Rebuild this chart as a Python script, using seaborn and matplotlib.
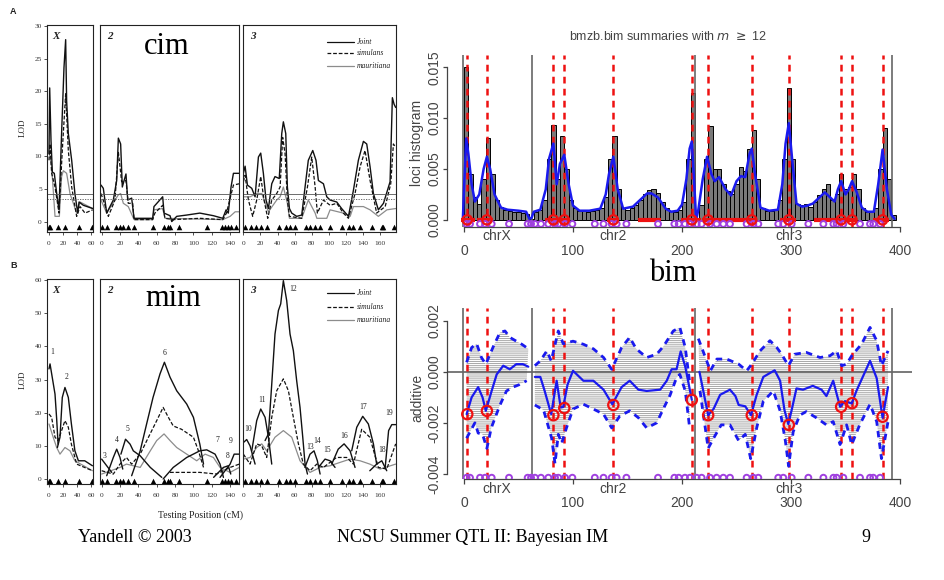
import numpy as np
import pandas as pd
import matplotlib
matplotlib.use("Agg")
import matplotlib.pyplot as plt
from matplotlib.lines import Line2D
import seaborn as sns

nan = np.nan
# ---------------- data: cim (panel A) ----------------
cim_X_x = [0, 1, 2.9, 4.8, 7.6, 11, 14.3, 18, 21.4, 23.8, 25.2, 27.6, 32.4, 37, 41, 42.9, 49, 62.4]
cim_X_joint = [10.4, 20.5, 12.4, 7.6, 7.4, 4.3, 1.8, 13.5, 23.6, 27.9, 18.5, 13.5, 9.4, 4.3, 1.3, 3.0, 2.5, 2.0]
cim_X_sim_x = [0, 1.4, 3.8, 8.6, 14.3, 19, 23.8, 27.6, 32.4, 39.5, 44.3, 51.4, 62.4]
cim_X_sim = [9.4, 11.9, 7.4, 5.3, 1.3, 10.9, 19.6, 10.9, 5.3, 0.8, 2.3, 1.3, 1.8]
cim_X_mau_x = [0, 3.8, 8.6, 14.8, 18, 20.5, 25.2, 30, 39.5, 44.3, 62.4]
cim_X_mau = [10.9, 8.4, 0.8, 0.8, 6.9, 7.8, 7.4, 4.3, 1.3, 3.0, 2.0]

cim_2_x = [-0.7, 1.8, 5.5, 12.7, 16.4, 18.2, 20.7, 22.5, 26.5, 28.4, 32.7, 35.3, 55.6, 57, 66.5, 68, 74.5,
           76.4, 81.8, 92.7, 107, 121.8, 132, 135.6, 138, 141, 143.6, 150]
cim_2_joint = [5.6, 5.1, 1.3, 3.3, 6.3, 12.8, 11.9, 5.3, 7.3, 3.3, 3.6, 0.5, 0.5, 2.3, 3.8, 1.3, 0.9,
               0.0, 0.8, 1.0, 1.3, 0.9, 0.5, 1.8, 1.3, 5.3, 7.4, 7.4]
cim_2_sim_x = [-0.7, 3.6, 7.3, 14.5, 18.2, 21.8, 26.5, 29, 33.8, 35.3, 55.6, 58, 66.5, 69, 78, 107, 132,
               136, 143.6, 150]
cim_2_sim = [4.3, 2.5, 0.8, 3.3, 10.7, 6.1, 6.3, 2.8, 2.8, 0.3, 0.3, 1.3, 2.5, 0.5, 0.3, 0.5, 0.3,
             1.3, 5.6, 5.8]
cim_2_mau_x = [-0.7, 5.5, 14.5, 18.2, 20.7, 23.6, 29, 35.3, 55.6, 57, 66.5, 69, 132, 140, 145.5, 150]
cim_2_mau = [3.3, 1.3, 3.3, 4.1, 4.3, 2.8, 2.3, 0.3, 0.3, 1.8, 2.0, 0.5, 0.3, 0.8, 1.5, 1.5]

cim_3_x = [0, 2, 4.7, 9.8, 13.7, 17.6, 20.3, 23.4, 26.5, 29.3, 33.2, 37, 42, 44.9, 46.8, 49.6, 51.5,
           53.9, 56.6, 62.4, 68.3, 72.2, 76, 81.2, 85, 87.8, 93.7, 97.6, 101.5, 109.3, 115, 123,
           128.8, 134.6, 140.5, 144.4, 148.3, 152.2, 158, 164, 171.7, 174.4, 176.4, 178.3]
cim_3_joint = [7.4, 8.5, 5.6, 5.1, 3.8, 9.9, 10.5, 7.4, 3.3, 2.0, 5.8, 6.9, 6.6, 13.5, 15.3, 13.5, 5.3,
               2.0, 1.3, 0.8, 1.0, 5.3, 9.4, 10.9, 9.4, 6.3, 5.8, 3.8, 3.3, 3.0, 2.0, 0.8,
               4.8, 9.4, 12.3, 11.9, 8.4, 4.3, 1.8, 2.8, 6.1, 19.0, 18.0, 17.5]
cim_3_sim_x = [0, 2, 5.9, 10.9, 15.6, 20.3, 24.2, 28.5, 33.2, 39, 43, 46, 48.8, 51.5, 53.9, 68.3, 75,
               80, 84, 86.6, 93.7, 101.5, 109.3, 117, 123, 130.7, 136.6, 142.4, 148.3, 156, 166,
               172.5, 175.6, 178.3]
cim_3_sim = [6.1, 7.1, 3.3, 0.8, 3.3, 6.9, 3.3, 0.5, 3.3, 4.3, 5.3, 12.9, 10.4, 3.3, 0.8, 0.5, 5.3,
             9.9, 5.3, 1.3, 3.3, 2.5, 2.8, 1.3, 0.5, 4.3, 8.4, 10.9, 6.3, 1.3, 2.3,
             5.8, 11.9, 11.4]
cim_3_mau_x = [0, 7.8, 15.6, 21.5, 29.3, 39, 43, 46.8, 51.5, 53.9, 68.3, 76, 84, 86, 97.6, 101.5, 117,
               125, 128.8, 140.5, 148.3, 158, 168, 178.3]
cim_3_mau = [3.8, 3.8, 4.3, 4.3, 1.5, 3.3, 3.8, 5.3, 2.8, 0.5, 0.5, 3.3, 1.3, 0.5, 0.5, 1.8, 1.3,
             0.8, 2.3, 2.3, 1.8, 0.8, 1.8, 2.0]
cim_thresholds = [4.3, 3.45]

markers_X = [0, 2, 13, 23, 43, 61]
markers_2 = [0, 6, 16, 20, 23, 29, 35, 56, 68, 72, 75, 84, 115, 131, 134, 138, 141, 146]
markers_3 = [2, 9, 15, 21, 28, 42, 50, 54, 60, 73, 78, 84, 90, 101, 115, 124, 128, 136, 150, 162, 164, 176]

# ---------------- data: mim (panel B) ----------------
mim_X_x = [0, 1.5, 8.6, 11, 13, nan, 12, 15.7, 19, 22.8, 27.6, 32, 37, 42, 51, 62]
mim_X_joint = [33.2, 34.7, 25.6, 18, 10.5, nan, 9.5, 12.6, 24.6, 27.6, 24.6, 16.6, 8.5, 5.5, 5.5, 4.0]
mim_X_sim_x = [0, 3.8, 8.6, 13, 18, 22.8, 27.6, 32, 39.5, 62]
mim_X_sim = [19.6, 18.6, 12.6, 11.6, 14.6, 17.6, 15.6, 10.5, 4.5, 2.5]
mim_X_mau_x = [0, 6, 11, 15.7, 22.8, 30, 37, 62]
mim_X_mau = [16.6, 12.6, 9.5, 7.5, 9.5, 8.5, 5.5, 2.5]

mim_2_x = [0, 5.5, 11, nan, 5.5, 12.7, 16.4, 20, 23, nan, 21, 26, 31, 34.5, 42, 53, 65.5, nan,
           32.7, 42, 49, 56, 63.6, 68.4, 74.5, 81.8, 92.7, 100, 107, 111, nan,
           67, 78, 92.7, 107, 114.5, 123.6, 129, 132.7, nan, 122, 132.7, 138, 140.7, nan,
           129, 140, 144.4, 150]
mim_2_joint = [6, 4, 2, nan, 1, 6.5, 9, 6.5, 3, nan, 7.5, 12, 10.5, 8.5, 7, 3.5, 0.5, nan,
               1, 8.5, 16.6, 24.6, 31.7, 35.2, 30.7, 26.6, 22.6, 18.6, 10.5, 4.5, nan,
               0, 3.5, 6.5, 8.5, 8.8, 7.5, 4.5, 0.5, nan, 0.5, 3.5, 4, 1.5, nan,
               0.5, 4.5, 7.5, 7.5]
mim_2_sim_x = [0, 12.7, 20, 27, 32.7, 42, 51, 60, 67, 72.7, 78, 87, 100, 105.5, 111, nan,
               74.5, 107, 125, 140, 150]
mim_2_sim = [2.5, 1.5, 4.5, 6.5, 4.5, 7.5, 12.6, 17.6, 21.6, 18.6, 16, 15, 12.6, 8.5, 3.5, nan,
             2, 2, 1.5, 3.5, 4.5]
mim_2_mau_x = [0, 20, 27, 42, 53, 60, 68, 74.5, 81.8, 92.7, 103.6, 112.7, 121.8, 129, 140, 150]
mim_2_mau = [1.5, 3.5, 4.5, 3.5, 8.5, 11.6, 13.6, 11.6, 9.5, 7.5, 5.5, 7.5, 6.5, 3.5, 2, 3.5]

mim_3_x = [0, 3.9, 7.8, 13.7, nan, 9.8, 15.6, 20.3, 25.4, 29.3, 33.2, nan,
           25.4, 29.3, 33.2, 37, 41, 43.7, 46.8, 50.7, 54.6, 58.5, 62.4, 66.3, 69.5, 72.2, 75, nan,
           72, 78, 82.7, 86.6, 89.8, nan, 87.8, 95.6, 101.5, 107.3, nan,
           103.4, 111, 117.9, 124.9, 130.7, nan, 126.8, 132.7, 139.7, 146.3, 152.2, 156, nan,
           148, 156, 162, 167.8, nan, 166, 170, 173.7, 178.3]
mim_3_joint = [11, 11.9, 10, 4.5, nan, 8.5, 17.6, 21.1, 18.6, 12.6, 4.5, nan,
               11.6, 13.6, 28.6, 43.7, 50.8, 52.8, 59.8, 53.8, 43.7, 38.7, 29.6, 21.6, 12.6, 4.5, 1.5, nan,
               3.5, 7.5, 8.5, 5.5, 1.5, nan, 3.5, 6, 5.5, 3.5, nan,
               4.5, 9, 10.6, 8.5, 3.5, nan, 8.5, 15.6, 18.9, 16.6, 10.6, 4.5, nan,
               2.5, 4.5, 5.5, 2.5, nan, 3.5, 14.6, 16.4, 16.4]
mim_3_sim_x = [0, 7.8, 15.6, 21.5, 27.3, 33.2, 39, 46.8, 52.7, 58.5, 64.4, 70.2, 78, 85.9, 93.7,
               109, 121, 128.8, 138.5, 148, 158, 167.8, 178.3]
mim_3_sim = [7.5, 4.5, 10.6, 10, 6.5, 18.6, 26.6, 30.2, 26.6, 18.6, 10.6, 4.5, 2.5, 4.5, 3.5,
             6.5, 6.5, 4.5, 15, 12.6, 3.5, 3, 10.6]
mim_3_mau_x = [0, 7.8, 15.6, 21.5, 27.3, 37, 46.8, 56.6, 66.3, 78, 89.8, 101.5, 113, 124.9, 136.6,
               148, 160, 178.3]
mim_3_mau = [6, 6.5, 9.5, 10.6, 8.5, 12.6, 14.6, 12.6, 5.5, 2, 3.5, 4, 5, 6, 5.5, 4.5, 3, 4.5]

peak_X_lab = ["1", "2"]
peak_X_pos = [4, 25.7]
peak_X_lod = [37, 29.5]
peak_2_lab = ["3", "4", "5", "6", "7", "8", "9"]
peak_2_pos = [3.6, 16.4, 28.4, 68.4, 126, 137, 141]
peak_2_lod = [5.7, 10.6, 13.8, 36.9, 10.6, 5.7, 10.3]
peak_3_lab = ["10", "11", "12", "13", "14", "15", "16", "17", "18", "19"]
peak_3_pos = [5.9, 21.5, 58.5, 78, 86.6, 97.6, 118, 140.5, 162, 171]
peak_3_lod = [13.8, 22.6, 56, 8.5, 10.2, 7.5, 11.9, 20.6, 7.5, 18.6]

# ---------------- data: bim ----------------
hist_start = list(range(0, 396, 4))
hist_vals = [0.0150, 0.0045, 0.0022, 0.0016, 0.0040, 0.0080, 0.0045, 0.0020, 0.0013, 0.0010,
             0.0009, 0.0008, 0.0008, 0.0007, 0.0006, 0.0001,
             0.0008, 0.0010, 0.0020, 0.0060, 0.0093, 0.0040, 0.0082, 0.0050, 0.0020, 0.0012,
             0.0009, 0.0009, 0.0008, 0.0009, 0.0010, 0.0012, 0.0022, 0.0060, 0.0082, 0.0030,
             0.0012, 0.0010, 0.0012, 0.0015, 0.0020, 0.0025, 0.0029, 0.0030, 0.0026, 0.0018,
             0.0012, 0.0009, 0.0008, 0.0010, 0.0018, 0.0060, 0.0125, 0.0001,
             0.0015, 0.0060, 0.0092, 0.0050, 0.0050, 0.0035, 0.0028, 0.0025, 0.0035, 0.0052,
             0.0048, 0.0070, 0.0088, 0.0040, 0.0012, 0.0009, 0.0009, 0.0010, 0.0020, 0.0060,
             0.0130, 0.0060, 0.0016, 0.0015, 0.0016, 0.0013, 0.0018, 0.0024, 0.0030, 0.0035,
             0.0020, 0.0025, 0.0045, 0.0030, 0.0032, 0.0045, 0.0030, 0.0012, 0.0008, 0.0008,
             0.0012, 0.0050, 0.0090, 0.0040, 0.0005]
dens_x = [-1, 0, 2, 4, 7, 10, 14, 18, 21, 24, 28, 34, 40, 50, 57, 60, 62, 64, 70, 75, 78, 82, 85, 88,
          92, 96, 100, 106, 115, 125, 130, 133, 137, 141, 146, 155, 162, 168, 172, 178, 185, 190,
          196, 200, 204, 207, 209, 211, 213, 215, 219, 223, 227, 230, 234, 240, 245, 250, 254, 258,
          262, 264, 267, 272, 280, 288, 292, 295, 298, 301, 305, 310, 315, 320, 326, 331, 336, 340,
          343, 346, 350, 353, 356, 360, 365, 370, 376, 380, 384, 388, 392, 395]
dens_y = [0.0002, 0.0030, 0.0080, 0.0065, 0.0035, 0.0018, 0.0025, 0.0050, 0.0062, 0.0050, 0.0025,
          0.0012, 0.0010, 0.0009, 0.0008, 0.0001, 0.0002, 0.0008, 0.0010, 0.0030, 0.0060, 0.0075,
          0.0035, 0.0055, 0.0064, 0.0035, 0.0014, 0.0009, 0.0009, 0.0011, 0.0025, 0.0045, 0.0062,
          0.0030, 0.0011, 0.0013, 0.0020, 0.0026, 0.0026, 0.0022, 0.0011, 0.0008, 0.0009, 0.0015,
          0.0040, 0.0070, 0.0077, 0.0040, 0.0000, 0.0010, 0.0040, 0.0062, 0.0045, 0.0038, 0.0042,
          0.0030, 0.0024, 0.0038, 0.0043, 0.0042, 0.0065, 0.0070, 0.0045, 0.0012, 0.0009, 0.0010,
          0.0035, 0.0075, 0.0095, 0.0060, 0.0016, 0.0013, 0.0014, 0.0016, 0.0022, 0.0027, 0.0022,
          0.0018, 0.0030, 0.0038, 0.0025, 0.0030, 0.0038, 0.0028, 0.0012, 0.0008, 0.0008, 0.0035,
          0.0069, 0.0030, 0.0005, 0.0001]
qtl_pos = [3, 21, 82, 92, 137, 209, 224, 264, 298, 346, 356, 384]
qtl_add = [-0.00166, -0.00153, -0.0017, -0.00142, -0.0013, -0.0011, -0.0017, -0.0017, -0.00208,
           -0.00137, -0.00123, -0.00176]
red_span_lo = [-3, 12, 74, 131, 160, 199, 218, 290, 321, 375]
red_span_hi = [10, 27, 97, 142, 181, 217, 268, 305, 360, 390]
marker_pos = [2.4, 5.5, 14.7, 19.3, 25.4, 41.3, 58.4, 61.5, 65.1, 70.6, 77.4, 83.5, 86.5, 92.7, 99.4,
              120, 128, 135.5, 140, 149, 178, 193, 197, 202.7, 207.3, 213.4, 218, 225.7, 231.8,
              237.9, 244, 259.3, 265.4, 270, 288.3, 292.9, 300.6, 315.9, 329.7, 338.9, 341.9, 348,
              363.3, 372.5, 375.5, 381.7]
chrom_bounds = [-1, 62, 212, 393]
chrom_names = ["chrX", "chr2", "chr3"]
chrom_label_pos = [30, 137, 298]

add_mean_x = [2.4, 7, 13, 17, 20, 25, 30, 36, 42, 48, 54, 59, nan,
              65, 70, 74, 80, 85, 88.7, 91, 95, 100, 109.5, 118.7, 128, 136, 144.6, 152, 160, 167.6,
              180, 186, 190.5, 195, 198.8, 203, 209, nan,
              216, 224, 229, 235, 244, 249, 252, 258, 263.3, 268.5, 274.6, 285, 290, 294, 297.5,
              300.6, 305, 311, 320, 328, 332.5, 338.7, 345, 349.5, 355.7, 360, 372.5, 378.6, 384, 389]
add_mean_y = [-1.66, -1.0, -0.6, -1.0, -1.53, -0.8, -0.1, 0.24, 0.1, 0.3, 0.3, 0.2, nan,
              -0.2, -0.2, -0.75, -1.66, -0.35, -1.4, -1.38, -0.5, 0.04, -0.35, -0.35, -0.7, -1.27,
              -0.6, -0.35, -0.7, -0.75, -0.7, -0.35, 0.1, 0.1, 0.8, 0.2, -1.1, nan,
              0.0, -1.7, -1.45, -0.9, -0.7, -0.95, -1.3, -1.35, -1.7, -0.9, -0.2, 0.06, -0.35, -1.5,
              -2.05, -1.5, -0.65, -0.7, -0.55, -0.7, -0.95, -0.35, -1.37, -1.15, -1.24, -0.75, 0.43,
              -0.25, -1.8, -0.6]
add_up_x = [2.4, 7, 11.6, 16, 20, 27, 33, 37.6, 42, 48, 53, 59, nan,
            65, 70, 76, 80, 86.5, 91, 100, 109.5, 118.7, 128, 135.5, 144.6, 152, 158, 167.6, 176.8,
            183, 192, 198, 203, 207, nan,
            215, 221.5, 226, 232, 241, 252, 259.3, 264, 271.6, 280.7, 287, 291.4, 297.6, 303.5, 314,
            326.6, 335.8, 341.9, 346.5, 351, 355.7, 364.8, 372.5, 378.6, 383, 389]
add_up_y = [0.37, 0.95, 1.1, 0.56, 0.3, 1.0, 1.54, 1.6, 1.35, 1.2, 1.08, 0.9, nan,
            0.24, 0.43, 0.82, 0.43, 1.6, 1.1, 1.2, 1.08, 0.9, 0.56, 0.1, 0.95, 1.35, 0.9, 0.56, 0.69,
            1.0, 1.6, 1.74, 0.95, -0.4, nan,
            1.3, 0.56, 0.04, 0.5, 0.5, 0.3, 0.04, 0.3, 0.82, 1.22, 0.95, 0.69, 0.24, 0.69, 0.76,
            0.56, 0.63, 0.82, 0.24, 0.3, 0.63, 1.09, 1.74, 1.22, 0.24, 0.82]
add_lo_x = [2.4, 10, 13, 17, 21, 25, 33, 39, 45, 51, 57.5, nan,
            65, 73, 80.4, 83.5, 86.5, 89.6, 94, 100, 109.5, 118.7, 128, 135.5, 143, 152, 160, 167.6,
            176.8, 183, 189, 195, 198, 203, 207, nan,
            216.5, 224, 229, 236, 244, 252, 258, 263, 268.5, 274.6, 283.8, 290, 294.8, 297.8, 302,
            308, 314, 323.2, 332.5, 338.7, 345, 351, 355.7, 363, 372.5, 378.6, 383, 389]
add_lo_y = [-2.6, -2.0, -2.4, -2.45, -3.0, -2.2, -1.3, -0.75, -0.6, -0.5, -0.35, nan,
            -1.3, -1.5, -2.6, -3.6, -2.45, -2.8, -2.2, -1.46, -1.27, -1.46, -1.66, -2.2, -1.73,
            -1.53, -1.8, -2.2, -2.0, -1.44, -0.92, -0.23, -0.1, -0.75, -2.2, nan,
            -0.75, -3.0, -2.6, -2.08, -2.08, -2.7, -2.45, -3.4, -2.2, -1.15, -0.75, -1.53, -2.7,
            -3.7, -2.35, -1.7, -1.56, -1.8, -2.08, -1.95, -2.85, -2.08, -2.85, -2.08, -1.27, -1.95,
            -3.4, -1.95]

# ---------------- figure ----------------
sns.set_theme(style="ticks")
plt.rcParams["font.family"] = ["Liberation Sans", "DejaVu Sans"]
plt.rcParams["hatch.linewidth"] = 0.7
W, H = 944, 580
fig = plt.figure(figsize=(W / 100, H / 100), dpi=100)
fig.patch.set_facecolor("white")
SERIF = ["Liberation Serif", "DejaVu Serif"]


def px_axes(l, t, r, b):
    return fig.add_axes([l / W, 1 - b / H, (r - l) / W, (b - t) / H])


def ftext(x, y, s, **kw):
    return fig.text(x / W, 1 - y / H, s, **kw)


def seg_line(ax, xs, ys, **kw):
    xs = np.asarray(xs, float)
    ys = np.asarray(ys, float)
    brk = np.isnan(xs) | np.isnan(ys)
    df = pd.DataFrame({"x": xs, "y": ys, "seg": np.cumsum(brk)})[~brk]
    sns.lineplot(data=df, x="x", y="y", units="seg", estimator=None, sort=False,
                 ax=ax, legend=False, **kw)


def segments(xs, ys):
    xs = np.asarray(xs, float)
    ys = np.asarray(ys, float)
    brk = np.isnan(xs)
    ids = np.cumsum(brk)
    out = []
    for i in np.unique(ids[~brk]):
        m = (ids == i) & ~brk
        out.append((xs[m], ys[m]))
    return out


# ---------- left panels ----------
left_cols = [(47.3, 92.7, (-2.4, 62.4), [0, 20, 40, 60], markers_X),
             (100, 239.3, (-1.8, 150), [0, 20, 40, 60, 80, 100, 120, 140], markers_2),
             (242.7, 395.7, (-0.8, 178.3), [0, 20, 40, 60, 80, 100, 120, 140, 160], markers_3)]
chrom_tags = ["X", "2", "3"]

cim_series = [(cim_X_x, cim_X_joint, cim_X_sim_x, cim_X_sim, cim_X_mau_x, cim_X_mau),
              (cim_2_x, cim_2_joint, cim_2_sim_x, cim_2_sim, cim_2_mau_x, cim_2_mau),
              (cim_3_x, cim_3_joint, cim_3_sim_x, cim_3_sim, cim_3_mau_x, cim_3_mau)]
mim_series = [(mim_X_x, mim_X_joint, mim_X_sim_x, mim_X_sim, mim_X_mau_x, mim_X_mau),
              (mim_2_x, mim_2_joint, mim_2_sim_x, mim_2_sim, mim_2_mau_x, mim_2_mau),
              (mim_3_x, mim_3_joint, mim_3_sim_x, mim_3_sim, mim_3_mau_x, mim_3_mau)]
peak_sets = [(peak_X_lab, peak_X_pos, peak_X_lod), (peak_2_lab, peak_2_pos, peak_2_lod),
             (peak_3_lab, peak_3_pos, peak_3_lod)]

for block, (top, bot, ylim, yticks, series, mk_y) in enumerate([
        (25, 232, (-1.6, 30.15), [0, 5, 10, 15, 20, 25, 30], cim_series, -0.9),
        (279, 484, (-1.5, 60.3), [0, 10, 20, 30, 40, 50, 60], mim_series, -0.7)]):
    for i, (l, r, xlim, xt, mks) in enumerate(left_cols):
        ax = px_axes(l, top, r, bot)
        jx, jy, sx, sy, mx, my = series[i]
        seg_line(ax, mx, my, color="#8c8c8c", linewidth=0.9)
        seg_line(ax, sx, sy, color="#111111", linewidth=0.9, linestyle=(0, (3, 1.5)))
        seg_line(ax, jx, jy, color="#111111", linewidth=1.0)
        sns.scatterplot(x=mks, y=[mk_y] * len(mks), marker="^", color="black", s=16,
                        linewidth=0, ax=ax, legend=False)
        if block == 0:
            ax.axhline(cim_thresholds[0], color="#555555", lw=0.6)
            ax.axhline(cim_thresholds[1], color="#555555", lw=0.6, ls=(0, (1.5, 1.5)))
        else:
            labs, pos, lod = peak_sets[i]
            for s, p, v in zip(labs, pos, lod):
                ax.text(p, v, s, fontsize=5.5, family=SERIF, color="#222", ha="center", va="bottom")
        ax.set_xlim(*xlim)
        ax.set_ylim(*ylim)
        ax.set_xticks(xt)
        ax.set_xticklabels([str(v) for v in xt], fontsize=5.3, family=SERIF, color="#333")
        ax.set_yticks(yticks)
        if i == 0:
            ax.set_yticklabels([str(v) for v in yticks], fontsize=5.3, family=SERIF, color="#333")
            ax.tick_params(axis="y", length=2.5, width=0.6, pad=1.5, colors="#333")
        else:
            ax.tick_params(axis="y", left=False, labelleft=False)
        ax.tick_params(axis="x", length=2.5, width=0.6, pad=4, colors="#333")
        ax.set_xlabel("")
        ax.set_ylabel("")
        for sp in ax.spines.values():
            sp.set_visible(True)
            sp.set_linewidth(0.8)
            sp.set_color("#222")
        ax.text(0.05 if i else 0.12, 0.965, chrom_tags[i], transform=ax.transAxes, fontsize=8,
                family=SERIF, style="italic", weight="bold", ha="left", va="top", color="#222")

    # legend in panel 3
    ly = [42, 53, 66] if block == 0 else [293, 307, 320]
    for yy, lab, col, ls in zip(ly, ["Joint", "simulans", "mauritiana"],
                                ["#111", "#111", "#8c8c8c"], ["-", (0, (3, 1.5)), "-"]):
        fig.add_artist(Line2D([327 / W, 354 / W], [1 - yy / H] * 2, color=col, lw=0.9, ls=ls))
        ftext(357, yy, lab, fontsize=5.5, family=SERIF, style="italic", va="center", color="#222")

ftext(10, 12, "A", fontsize=6.5, weight="bold", va="center", color="#222")
ftext(10, 265, "B", fontsize=6.5, weight="bold", va="center", color="#222")
ftext(23, 128, "LOD", fontsize=6.5, family=SERIF, rotation=90, ha="center", va="center", color="#222")
ftext(23, 380, "LOD", fontsize=6.5, family=SERIF, rotation=90, ha="center", va="center", color="#222")
ftext(200, 515, "Testing Position (cM)", fontsize=7, family=SERIF, ha="center", va="center",
      color="#222")
ftext(167, 46, "cim", fontsize=22, family=SERIF, ha="center", va="center", color="black")
ftext(173, 298, "mim", fontsize=22, family=SERIF, ha="center", va="center", color="black")
ftext(673, 274, "bim", fontsize=22, family=SERIF, ha="center", va="center", color="black")

# ---------- right top: loci histogram ----------
GRAY = "#444444"
RED = "#ee1111"
BLUE = "#1a1aee"
PURPLE = "#a040e0"
XL = (-15.6, 411)
RED_LS = (0, (2.7, 2.1))

axh = px_axes(447, 55, 912, 227)
bw = hist_start[1] - hist_start[0]
hist_df = pd.DataFrame({"pos": [s + bw / 2 for s in hist_start], "w": hist_vals})
sns.histplot(data=hist_df, x="pos", weights="w", bins=len(hist_start),
             binrange=(hist_start[0], hist_start[-1] + bw),
             color="#7a7a7a", edgecolor="black", linewidth=0.7, alpha=1, ax=axh)
for b in chrom_bounds:
    axh.axvline(b, color="#666666", lw=1.2, zorder=3)
for q in qtl_pos:
    axh.axvline(q, color=RED, lw=1.8, ls=RED_LS, zorder=4)
seg_line(axh, dens_x, dens_y, color=BLUE, linewidth=1.8, zorder=5)
axh.hlines([0] * len(red_span_lo), red_span_lo, red_span_hi, color=RED, lw=3, zorder=6)
sns.scatterplot(x=qtl_pos, y=[0] * len(qtl_pos), marker="o", s=45, facecolor="none",
                edgecolor=RED, linewidth=1.6, ax=axh, zorder=7, legend=False)
sns.scatterplot(x=marker_pos, y=[-0.0004] * len(marker_pos), marker="o", s=18, facecolor="none",
                edgecolor=PURPLE, linewidth=1.4, ax=axh, zorder=6, legend=False)
axh.set_xlim(*XL)
axh.set_ylim(-0.0007, 0.0162)
axh.set_xticks([0, 100, 200, 300, 400])
axh.set_yticks([0, 0.005, 0.010, 0.015])
axh.set_yticklabels(["0.000", "0.005", "0.010", "0.015"], rotation=90, va="center")
axh.spines["left"].set_bounds(0, 0.015)
axh.spines["bottom"].set_bounds(0, 400)

# ---------- right bottom: additive ----------
axa = px_axes(447, 308, 912, 479)
for (ux, uy), (lx, ly_) in zip(segments(add_up_x, add_up_y), segments(add_lo_x, add_lo_y)):
    px = np.concatenate([ux, lx[::-1]])
    py = np.concatenate([uy, ly_[::-1]]) * 1e-3
    axa.fill(px, py, facecolor="none", edgecolor="#a6a6a6", hatch="--------", linewidth=0,
             zorder=1)
axa.axhline(0, color="#555555", lw=1.1, zorder=2)
for b in chrom_bounds:
    axa.axvline(b, color="#666666", lw=1.2, zorder=3)
for q in qtl_pos:
    axa.axvline(q, color=RED, lw=1.8, ls=RED_LS, zorder=4)
seg_line(axa, add_up_x, np.array(add_up_y) * 1e-3, color=BLUE, linewidth=2.0,
         linestyle=(0, (2.3, 1.9)), zorder=5)
seg_line(axa, add_lo_x, np.array(add_lo_y) * 1e-3, color=BLUE, linewidth=2.0,
         linestyle=(0, (2.3, 1.9)), zorder=5)
seg_line(axa, add_mean_x, np.array(add_mean_y) * 1e-3, color=BLUE, linewidth=1.6, zorder=6)
sns.scatterplot(x=qtl_pos, y=qtl_add, marker="o", s=55, facecolor="none", edgecolor=RED,
                linewidth=1.6, ax=axa, zorder=7, legend=False)
sns.scatterplot(x=marker_pos, y=[-0.00415] * len(marker_pos), marker="o", s=18, facecolor="none",
                edgecolor=PURPLE, linewidth=1.4, ax=axa, zorder=6, legend=False)
axa.set_xlim(*XL)
axa.set_ylim(-0.0042, 0.0025)
axa.set_xticks([0, 100, 200, 300, 400])
axa.set_yticks([-0.004, -0.002, 0.0, 0.002])
axa.set_yticklabels(["-0.004", "-0.002", "0.000", "0.002"], rotation=90, va="center")
axa.spines["left"].set_bounds(-0.004, 0.002)
axa.spines["bottom"].set_bounds(0, 400)

for ax, ychr in [(axh, 236), (axa, 489)]:
    ax.set_xticklabels(["0", "100", "200", "300", "400"], fontsize=10, color=GRAY)
    for t in ax.get_yticklabels():
        t.set_fontsize(10)
        t.set_color(GRAY)
    ax.tick_params(axis="x", direction="out", length=3.5, width=0.9, colors=GRAY, pad=8.5)
    ax.tick_params(axis="y", direction="out", length=3, width=0.9, colors=GRAY, pad=1)
    ax.spines["top"].set_visible(False)
    ax.spines["right"].set_visible(False)
    for s in ["left", "bottom"]:
        ax.spines[s].set_color(GRAY)
        ax.spines[s].set_linewidth(0.9)
    ax.set_xlabel("")
    ax.set_ylabel("")
    ax.set_facecolor("none")
    for nm, xp in zip(chrom_names, chrom_label_pos):
        ftext(464 + 1.09 * xp, ychr, nm, fontsize=10, color=GRAY, ha="center", va="center")

ftext(417, 143, "loci histogram", fontsize=10, color=GRAY, rotation=90, ha="center", va="center")
ftext(417, 398, "additive", fontsize=10, color=GRAY, rotation=90, ha="center", va="center")
ftext(668, 37, r"bmzb.bim summaries with $m$ $\geq$ 12", fontsize=9, color=GRAY, ha="center",
      va="center")

# ---------- footer ----------
ftext(135, 537, "Yandell © 2003", fontsize=13, family=SERIF, ha="center", va="center", color="black")
ftext(473, 537, "NCSU Summer QTL II: Bayesian IM", fontsize=13, family=SERIF, ha="center",
      va="center", color="black")
ftext(866, 537, "9", fontsize=13, family=SERIF, ha="center", va="center", color="black")

fig.savefig("out.png", dpi=100, facecolor="white")
